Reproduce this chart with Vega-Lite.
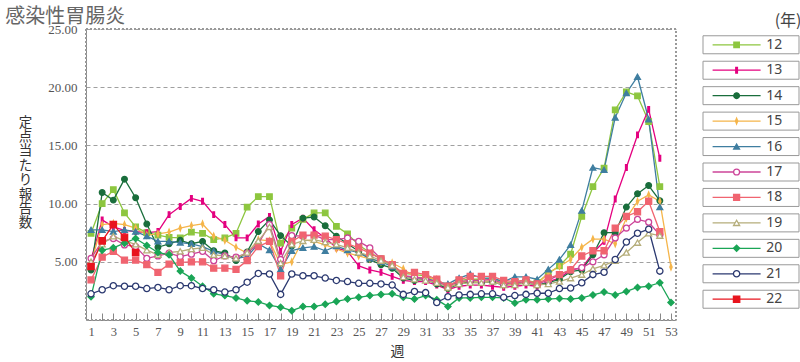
{
"$schema": "https://vega.github.io/schema/vega-lite/v6.json",
"padding": {"left": 5, "top": 7, "right": 0, "bottom": 0},
"background": "white",
"config": {"view": {"stroke": null}, "concat": {"spacing": 24}, "axis": {"labelOverlap": false}},
"datasets": {"d": [
{"s":"12","w":1,"v":7.45},{"s":"12","w":2,"v":10.0},{"s":"12","w":3,"v":11.2},{"s":"12","w":4,"v":9.2},{"s":"12","w":5,"v":8.0},{"s":"12","w":6,"v":7.5},{"s":"12","w":7,"v":7.3},{"s":"12","w":8,"v":7.1},{"s":"12","w":9,"v":7.05},{"s":"12","w":10,"v":7.55},{"s":"12","w":11,"v":7.45},{"s":"12","w":12,"v":6.9},{"s":"12","w":13,"v":7.05},{"s":"12","w":14,"v":7.45},{"s":"12","w":15,"v":9.7},{"s":"12","w":16,"v":10.6},{"s":"12","w":17,"v":10.6},{"s":"12","w":18,"v":6.6},{"s":"12","w":19,"v":7.9},{"s":"12","w":20,"v":8.65},{"s":"12","w":21,"v":9.2},{"s":"12","w":22,"v":9.2},{"s":"12","w":23,"v":8.05},{"s":"12","w":24,"v":7.4},{"s":"12","w":25,"v":6.45},{"s":"12","w":26,"v":5.8},{"s":"12","w":27,"v":5.25},{"s":"12","w":28,"v":4.75},{"s":"12","w":29,"v":4.0},{"s":"12","w":30,"v":3.9},{"s":"12","w":31,"v":3.8},{"s":"12","w":32,"v":3.4},{"s":"12","w":33,"v":2.9},{"s":"12","w":34,"v":3.4},{"s":"12","w":35,"v":3.5},{"s":"12","w":36,"v":3.5},{"s":"12","w":37,"v":3.6},{"s":"12","w":38,"v":3.2},{"s":"12","w":39,"v":3.3},{"s":"12","w":40,"v":3.4},{"s":"12","w":41,"v":3.2},{"s":"12","w":42,"v":4.0},{"s":"12","w":43,"v":4.65},{"s":"12","w":44,"v":5.65},{"s":"12","w":45,"v":8.9},{"s":"12","w":46,"v":11.45},{"s":"12","w":47,"v":13.05},{"s":"12","w":48,"v":18.05},{"s":"12","w":49,"v":19.6},{"s":"12","w":50,"v":19.25},{"s":"12","w":51,"v":17.05},{"s":"12","w":52,"v":11.45},
{"s":"13","w":1,"v":5.2},{"s":"13","w":2,"v":8.6},{"s":"13","w":3,"v":8.0},{"s":"13","w":4,"v":7.7},{"s":"13","w":5,"v":7.6},{"s":"13","w":6,"v":7.5},{"s":"13","w":7,"v":7.6},{"s":"13","w":8,"v":9.05},{"s":"13","w":9,"v":9.75},{"s":"13","w":10,"v":10.45},{"s":"13","w":11,"v":10.2},{"s":"13","w":12,"v":9.05},{"s":"13","w":13,"v":8.2},{"s":"13","w":14,"v":7.05},{"s":"13","w":15,"v":7.05},{"s":"13","w":16,"v":8.25},{"s":"13","w":17,"v":8.9},{"s":"13","w":18,"v":5.9},{"s":"13","w":19,"v":8.2},{"s":"13","w":20,"v":8.75},{"s":"13","w":21,"v":7.75},{"s":"13","w":22,"v":7.05},{"s":"13","w":23,"v":6.2},{"s":"13","w":24,"v":5.9},{"s":"13","w":25,"v":4.65},{"s":"13","w":26,"v":4.3},{"s":"13","w":27,"v":4.1},{"s":"13","w":28,"v":3.75},{"s":"13","w":29,"v":3.4},{"s":"13","w":30,"v":3.3},{"s":"13","w":31,"v":3.3},{"s":"13","w":32,"v":3.0},{"s":"13","w":33,"v":2.6},{"s":"13","w":34,"v":2.9},{"s":"13","w":35,"v":3.0},{"s":"13","w":36,"v":3.0},{"s":"13","w":37,"v":2.9},{"s":"13","w":38,"v":2.8},{"s":"13","w":39,"v":2.9},{"s":"13","w":40,"v":3.0},{"s":"13","w":41,"v":2.9},{"s":"13","w":42,"v":3.3},{"s":"13","w":43,"v":3.6},{"s":"13","w":44,"v":4.3},{"s":"13","w":45,"v":4.45},{"s":"13","w":46,"v":5.75},{"s":"13","w":47,"v":6.75},{"s":"13","w":48,"v":10.4},{"s":"13","w":49,"v":13.1},{"s":"13","w":50,"v":15.9},{"s":"13","w":51,"v":18.1},{"s":"13","w":52,"v":13.9},
{"s":"14","w":1,"v":4.3},{"s":"14","w":2,"v":10.95},{"s":"14","w":3,"v":10.3},{"s":"14","w":4,"v":12.1},{"s":"14","w":5,"v":10.5},{"s":"14","w":6,"v":8.25},{"s":"14","w":7,"v":6.25},{"s":"14","w":8,"v":6.55},{"s":"14","w":9,"v":6.85},{"s":"14","w":10,"v":6.55},{"s":"14","w":11,"v":6.75},{"s":"14","w":12,"v":5.95},{"s":"14","w":13,"v":5.75},{"s":"14","w":14,"v":5.1},{"s":"14","w":15,"v":5.85},{"s":"14","w":16,"v":7.6},{"s":"14","w":17,"v":8.6},{"s":"14","w":18,"v":7.25},{"s":"14","w":19,"v":6.35},{"s":"14","w":20,"v":8.75},{"s":"14","w":21,"v":8.85},{"s":"14","w":22,"v":8.1},{"s":"14","w":23,"v":7.2},{"s":"14","w":24,"v":6.55},{"s":"14","w":25,"v":5.9},{"s":"14","w":26,"v":5.2},{"s":"14","w":27,"v":4.75},{"s":"14","w":28,"v":4.45},{"s":"14","w":29,"v":3.6},{"s":"14","w":30,"v":3.4},{"s":"14","w":31,"v":3.5},{"s":"14","w":32,"v":3.1},{"s":"14","w":33,"v":2.7},{"s":"14","w":34,"v":3.1},{"s":"14","w":35,"v":3.3},{"s":"14","w":36,"v":3.2},{"s":"14","w":37,"v":3.3},{"s":"14","w":38,"v":3.0},{"s":"14","w":39,"v":3.1},{"s":"14","w":40,"v":3.2},{"s":"14","w":41,"v":3.0},{"s":"14","w":42,"v":3.2},{"s":"14","w":43,"v":3.5},{"s":"14","w":44,"v":4.15},{"s":"14","w":45,"v":4.3},{"s":"14","w":46,"v":5.6},{"s":"14","w":47,"v":7.5},{"s":"14","w":48,"v":7.5},{"s":"14","w":49,"v":9.7},{"s":"14","w":50,"v":10.85},{"s":"14","w":51,"v":11.55},{"s":"14","w":52,"v":10.25},
{"s":"15","w":1,"v":4.9},{"s":"15","w":2,"v":8.2},{"s":"15","w":3,"v":8.3},{"s":"15","w":4,"v":8.2},{"s":"15","w":5,"v":7.9},{"s":"15","w":6,"v":7.3},{"s":"15","w":7,"v":7.4},{"s":"15","w":8,"v":7.55},{"s":"15","w":9,"v":7.9},{"s":"15","w":10,"v":8.1},{"s":"15","w":11,"v":8.25},{"s":"15","w":12,"v":7.2},{"s":"15","w":13,"v":6.85},{"s":"15","w":14,"v":6.25},{"s":"15","w":15,"v":5.75},{"s":"15","w":16,"v":6.9},{"s":"15","w":17,"v":6.8},{"s":"15","w":18,"v":4.75},{"s":"15","w":19,"v":5.0},{"s":"15","w":20,"v":6.9},{"s":"15","w":21,"v":6.75},{"s":"15","w":22,"v":6.45},{"s":"15","w":23,"v":6.1},{"s":"15","w":24,"v":5.75},{"s":"15","w":25,"v":5.5},{"s":"15","w":26,"v":5.25},{"s":"15","w":27,"v":5.0},{"s":"15","w":28,"v":4.9},{"s":"15","w":29,"v":4.4},{"s":"15","w":30,"v":3.7},{"s":"15","w":31,"v":3.6},{"s":"15","w":32,"v":3.5},{"s":"15","w":33,"v":2.8},{"s":"15","w":34,"v":3.2},{"s":"15","w":35,"v":3.4},{"s":"15","w":36,"v":3.3},{"s":"15","w":37,"v":3.4},{"s":"15","w":38,"v":3.0},{"s":"15","w":39,"v":3.1},{"s":"15","w":40,"v":3.3},{"s":"15","w":41,"v":3.1},{"s":"15","w":42,"v":4.05},{"s":"15","w":43,"v":4.6},{"s":"15","w":44,"v":5.2},{"s":"15","w":45,"v":6.25},{"s":"15","w":46,"v":6.95},{"s":"15","w":47,"v":6.95},{"s":"15","w":48,"v":6.55},{"s":"15","w":49,"v":8.75},{"s":"15","w":50,"v":10.2},{"s":"15","w":51,"v":10.75},{"s":"15","w":52,"v":10.2},{"s":"15","w":53,"v":4.55},
{"s":"16","w":1,"v":7.75},{"s":"16","w":2,"v":7.75},{"s":"16","w":3,"v":7.6},{"s":"16","w":4,"v":7.75},{"s":"16","w":5,"v":7.6},{"s":"16","w":6,"v":7.2},{"s":"16","w":7,"v":6.75},{"s":"16","w":8,"v":6.75},{"s":"16","w":9,"v":6.65},{"s":"16","w":10,"v":6.55},{"s":"16","w":11,"v":6.3},{"s":"16","w":12,"v":5.9},{"s":"16","w":13,"v":5.6},{"s":"16","w":14,"v":5.3},{"s":"16","w":15,"v":5.45},{"s":"16","w":16,"v":6.55},{"s":"16","w":17,"v":6.0},{"s":"16","w":18,"v":4.35},{"s":"16","w":19,"v":5.95},{"s":"16","w":20,"v":6.2},{"s":"16","w":21,"v":6.3},{"s":"16","w":22,"v":5.95},{"s":"16","w":23,"v":6.35},{"s":"16","w":24,"v":6.0},{"s":"16","w":25,"v":5.8},{"s":"16","w":26,"v":5.3},{"s":"16","w":27,"v":5.0},{"s":"16","w":28,"v":4.6},{"s":"16","w":29,"v":3.8},{"s":"16","w":30,"v":3.6},{"s":"16","w":31,"v":3.6},{"s":"16","w":32,"v":3.3},{"s":"16","w":33,"v":3.1},{"s":"16","w":34,"v":3.6},{"s":"16","w":35,"v":3.95},{"s":"16","w":36,"v":3.6},{"s":"16","w":37,"v":3.6},{"s":"16","w":38,"v":3.3},{"s":"16","w":39,"v":3.7},{"s":"16","w":40,"v":3.7},{"s":"16","w":41,"v":3.5},{"s":"16","w":42,"v":4.35},{"s":"16","w":43,"v":5.2},{"s":"16","w":44,"v":6.45},{"s":"16","w":45,"v":9.4},{"s":"16","w":46,"v":13.1},{"s":"16","w":47,"v":12.9},{"s":"16","w":48,"v":17.4},{"s":"16","w":49,"v":19.5},{"s":"16","w":50,"v":20.9},{"s":"16","w":51,"v":17.25},{"s":"16","w":52,"v":9.7},
{"s":"17","w":1,"v":5.3},{"s":"17","w":2,"v":6.75},{"s":"17","w":3,"v":7.0},{"s":"17","w":4,"v":6.45},{"s":"17","w":5,"v":6.3},{"s":"17","w":6,"v":5.3},{"s":"17","w":7,"v":5.5},{"s":"17","w":8,"v":5.75},{"s":"17","w":9,"v":5.45},{"s":"17","w":10,"v":5.65},{"s":"17","w":11,"v":5.9},{"s":"17","w":12,"v":5.1},{"s":"17","w":13,"v":5.5},{"s":"17","w":14,"v":5.4},{"s":"17","w":15,"v":5.75},{"s":"17","w":16,"v":6.55},{"s":"17","w":17,"v":8.2},{"s":"17","w":18,"v":5.2},{"s":"17","w":19,"v":7.25},{"s":"17","w":20,"v":7.2},{"s":"17","w":21,"v":7.3},{"s":"17","w":22,"v":6.9},{"s":"17","w":23,"v":6.9},{"s":"17","w":24,"v":7.05},{"s":"17","w":25,"v":6.75},{"s":"17","w":26,"v":6.2},{"s":"17","w":27,"v":5.25},{"s":"17","w":28,"v":4.75},{"s":"17","w":29,"v":3.8},{"s":"17","w":30,"v":3.7},{"s":"17","w":31,"v":3.5},{"s":"17","w":32,"v":3.3},{"s":"17","w":33,"v":2.9},{"s":"17","w":34,"v":3.3},{"s":"17","w":35,"v":3.4},{"s":"17","w":36,"v":3.4},{"s":"17","w":37,"v":3.5},{"s":"17","w":38,"v":3.1},{"s":"17","w":39,"v":3.2},{"s":"17","w":40,"v":3.3},{"s":"17","w":41,"v":3.1},{"s":"17","w":42,"v":3.4},{"s":"17","w":43,"v":3.9},{"s":"17","w":44,"v":4.3},{"s":"17","w":45,"v":4.5},{"s":"17","w":46,"v":5.0},{"s":"17","w":47,"v":5.6},{"s":"17","w":48,"v":7.05},{"s":"17","w":49,"v":7.9},{"s":"17","w":50,"v":8.65},{"s":"17","w":51,"v":8.4},{"s":"17","w":52,"v":7.3},
{"s":"18","w":1,"v":3.45},{"s":"18","w":2,"v":5.4},{"s":"18","w":3,"v":5.9},{"s":"18","w":4,"v":5.15},{"s":"18","w":5,"v":5.15},{"s":"18","w":6,"v":4.75},{"s":"18","w":7,"v":4.1},{"s":"18","w":8,"v":4.8},{"s":"18","w":9,"v":4.95},{"s":"18","w":10,"v":5.0},{"s":"18","w":11,"v":5.0},{"s":"18","w":12,"v":4.45},{"s":"18","w":13,"v":4.45},{"s":"18","w":14,"v":4.35},{"s":"18","w":15,"v":5.1},{"s":"18","w":16,"v":6.3},{"s":"18","w":17,"v":6.75},{"s":"18","w":18,"v":3.8},{"s":"18","w":19,"v":6.75},{"s":"18","w":20,"v":7.3},{"s":"18","w":21,"v":7.3},{"s":"18","w":22,"v":7.2},{"s":"18","w":23,"v":6.9},{"s":"18","w":24,"v":6.55},{"s":"18","w":25,"v":6.2},{"s":"18","w":26,"v":5.75},{"s":"18","w":27,"v":5.25},{"s":"18","w":28,"v":4.75},{"s":"18","w":29,"v":4.0},{"s":"18","w":30,"v":4.1},{"s":"18","w":31,"v":3.9},{"s":"18","w":32,"v":3.5},{"s":"18","w":33,"v":2.9},{"s":"18","w":34,"v":3.45},{"s":"18","w":35,"v":3.75},{"s":"18","w":36,"v":3.75},{"s":"18","w":37,"v":3.75},{"s":"18","w":38,"v":3.4},{"s":"18","w":39,"v":3.3},{"s":"18","w":40,"v":3.45},{"s":"18","w":41,"v":3.1},{"s":"18","w":42,"v":3.6},{"s":"18","w":43,"v":3.9},{"s":"18","w":44,"v":4.3},{"s":"18","w":45,"v":5.5},{"s":"18","w":46,"v":5.95},{"s":"18","w":47,"v":5.95},{"s":"18","w":48,"v":7.9},{"s":"18","w":49,"v":8.9},{"s":"18","w":50,"v":9.3},{"s":"18","w":51,"v":10.2},{"s":"18","w":52,"v":7.6},
{"s":"19","w":1,"v":5.0},{"s":"19","w":2,"v":6.5},{"s":"19","w":3,"v":7.2},{"s":"19","w":4,"v":6.8},{"s":"19","w":5,"v":6.5},{"s":"19","w":6,"v":6.0},{"s":"19","w":7,"v":5.6},{"s":"19","w":8,"v":5.8},{"s":"19","w":9,"v":5.9},{"s":"19","w":10,"v":6.1},{"s":"19","w":11,"v":6.2},{"s":"19","w":12,"v":5.6},{"s":"19","w":13,"v":5.5},{"s":"19","w":14,"v":5.3},{"s":"19","w":15,"v":5.8},{"s":"19","w":16,"v":6.8},{"s":"19","w":17,"v":8.0},{"s":"19","w":18,"v":4.9},{"s":"19","w":19,"v":6.5},{"s":"19","w":20,"v":6.8},{"s":"19","w":21,"v":6.9},{"s":"19","w":22,"v":6.7},{"s":"19","w":23,"v":6.5},{"s":"19","w":24,"v":6.2},{"s":"19","w":25,"v":5.8},{"s":"19","w":26,"v":5.5},{"s":"19","w":27,"v":5.1},{"s":"19","w":28,"v":4.7},{"s":"19","w":29,"v":3.7},{"s":"19","w":30,"v":3.5},{"s":"19","w":31,"v":3.4},{"s":"19","w":32,"v":3.2},{"s":"19","w":33,"v":2.8},{"s":"19","w":34,"v":3.1},{"s":"19","w":35,"v":3.2},{"s":"19","w":36,"v":3.2},{"s":"19","w":37,"v":3.3},{"s":"19","w":38,"v":3.0},{"s":"19","w":39,"v":3.0},{"s":"19","w":40,"v":3.2},{"s":"19","w":41,"v":3.0},{"s":"19","w":42,"v":3.1},{"s":"19","w":43,"v":3.3},{"s":"19","w":44,"v":3.6},{"s":"19","w":45,"v":3.9},{"s":"19","w":46,"v":4.4},{"s":"19","w":47,"v":4.7},{"s":"19","w":48,"v":5.1},{"s":"19","w":49,"v":5.8},{"s":"19","w":50,"v":6.65},{"s":"19","w":51,"v":7.45},{"s":"19","w":52,"v":7.25},
{"s":"20","w":1,"v":2.0},{"s":"20","w":2,"v":6.0},{"s":"20","w":3,"v":6.2},{"s":"20","w":4,"v":6.6},{"s":"20","w":5,"v":7.0},{"s":"20","w":6,"v":6.4},{"s":"20","w":7,"v":5.8},{"s":"20","w":8,"v":5.6},{"s":"20","w":9,"v":4.2},{"s":"20","w":10,"v":3.6},{"s":"20","w":11,"v":2.9},{"s":"20","w":12,"v":2.25},{"s":"20","w":13,"v":2.1},{"s":"20","w":14,"v":1.9},{"s":"20","w":15,"v":1.65},{"s":"20","w":16,"v":1.55},{"s":"20","w":17,"v":1.25},{"s":"20","w":18,"v":1.1},{"s":"20","w":19,"v":0.8},{"s":"20","w":20,"v":1.15},{"s":"20","w":21,"v":1.15},{"s":"20","w":22,"v":1.35},{"s":"20","w":23,"v":1.6},{"s":"20","w":24,"v":1.8},{"s":"20","w":25,"v":1.95},{"s":"20","w":26,"v":2.1},{"s":"20","w":27,"v":2.2},{"s":"20","w":28,"v":2.25},{"s":"20","w":29,"v":1.95},{"s":"20","w":30,"v":1.8},{"s":"20","w":31,"v":2.1},{"s":"20","w":32,"v":1.75},{"s":"20","w":33,"v":1.15},{"s":"20","w":34,"v":1.9},{"s":"20","w":35,"v":1.9},{"s":"20","w":36,"v":1.95},{"s":"20","w":37,"v":1.95},{"s":"20","w":38,"v":1.9},{"s":"20","w":39,"v":1.45},{"s":"20","w":40,"v":1.75},{"s":"20","w":41,"v":1.75},{"s":"20","w":42,"v":1.8},{"s":"20","w":43,"v":1.85},{"s":"20","w":44,"v":1.8},{"s":"20","w":45,"v":1.9},{"s":"20","w":46,"v":2.15},{"s":"20","w":47,"v":2.4},{"s":"20","w":48,"v":2.15},{"s":"20","w":49,"v":2.45},{"s":"20","w":50,"v":2.8},{"s":"20","w":51,"v":2.9},{"s":"20","w":52,"v":3.2},{"s":"20","w":53,"v":1.5},
{"s":"21","w":1,"v":2.25},{"s":"21","w":2,"v":2.6},{"s":"21","w":3,"v":2.95},{"s":"21","w":4,"v":2.9},{"s":"21","w":5,"v":2.9},{"s":"21","w":6,"v":2.7},{"s":"21","w":7,"v":2.8},{"s":"21","w":8,"v":2.6},{"s":"21","w":9,"v":2.95},{"s":"21","w":10,"v":2.95},{"s":"21","w":11,"v":2.7},{"s":"21","w":12,"v":2.6},{"s":"21","w":13,"v":2.4},{"s":"21","w":14,"v":2.6},{"s":"21","w":15,"v":3.25},{"s":"21","w":16,"v":4.0},{"s":"21","w":17,"v":3.95},{"s":"21","w":18,"v":2.2},{"s":"21","w":19,"v":3.95},{"s":"21","w":20,"v":3.8},{"s":"21","w":21,"v":3.8},{"s":"21","w":22,"v":3.6},{"s":"21","w":23,"v":3.4},{"s":"21","w":24,"v":3.3},{"s":"21","w":25,"v":3.15},{"s":"21","w":26,"v":3.15},{"s":"21","w":27,"v":3.1},{"s":"21","w":28,"v":3.0},{"s":"21","w":29,"v":2.2},{"s":"21","w":30,"v":2.45},{"s":"21","w":31,"v":2.35},{"s":"21","w":32,"v":1.5},{"s":"21","w":33,"v":2.0},{"s":"21","w":34,"v":2.15},{"s":"21","w":35,"v":2.2},{"s":"21","w":36,"v":2.25},{"s":"21","w":37,"v":2.25},{"s":"21","w":38,"v":1.95},{"s":"21","w":39,"v":2.1},{"s":"21","w":40,"v":2.2},{"s":"21","w":41,"v":2.3},{"s":"21","w":42,"v":2.3},{"s":"21","w":43,"v":2.7},{"s":"21","w":44,"v":2.75},{"s":"21","w":45,"v":3.2},{"s":"21","w":46,"v":3.9},{"s":"21","w":47,"v":4.1},{"s":"21","w":48,"v":5.2},{"s":"21","w":49,"v":6.7},{"s":"21","w":50,"v":7.45},{"s":"21","w":51,"v":7.8},{"s":"21","w":52,"v":4.2},
{"s":"22","w":1,"v":4.6},{"s":"22","w":2,"v":6.8},{"s":"22","w":3,"v":8.2},{"s":"22","w":4,"v":7.1},{"s":"22","w":5,"v":5.8}
]},
"data": {"name": "d"},
"resolve": {"scale": {"x": "independent", "y": "independent"}},
"hconcat": [
{
"width": 590, "height": 291,
"title": {"text": "感染性胃腸炎", "anchor": "start", "frame": "bounds", "fontSize": 20, "font": "Noto Sans CJK JP", "fontWeight": "normal", "color": "#666", "dx": -13, "offset": -4},
"resolve": {"axis": {"x": "independent"}},
"layer": [
{"mark": {"type": "rect", "fill": null, "stroke": "#999", "strokeDash": [2, 2], "strokeWidth": 1}, "encoding": {}},
{"mark": {"type": "line", "clip": false, "strokeJoin": "round"},
 "encoding": {
  "x": {"field": "w", "type": "quantitative", "scale": {"domain": [0.55, 53.45], "nice": false, "zero": false},
    "axis": {"values": [1,3,5,7,9,11,13,15,17,19,21,23,25,27,29,31,33,35,37,39,41,43,45,47,49,51,53],
      "tickSize": -7, "tickColor": "#888", "domainColor": "#888", "grid": false,
      "labelPadding": 12, "labelFont": "Liberation Serif", "labelFontSize": 12.5, "labelColor": "#555", "labelFlush": false, "labelOverlap": false, "labelBound": false,
      "title": "週", "titleFont": "Noto Sans CJK JP", "titleFontSize": 14, "titleFontWeight": "normal", "titleColor": "#333", "titleX": 311, "titlePadding": 7}},
  "y": {"field": "v", "type": "quantitative", "scale": {"domain": [0, 25], "nice": false},
    "axis": {"values": [5, 10, 15, 20, 25], "format": ".2f", "ticks": false, "labelPadding": 9, "labelFont": "Liberation Serif", "labelFontSize": 13, "labelColor": "#555", "domainColor": "#888",
      "gridColor": "#888", "gridDash": [4, 3], "gridWidth": 0.8,
      "title": ["定","点","当","た","り","報","告","数"], "titleAngle": 0, "titleFontSize": 13.5, "titleLineHeight": 14.4, "titleFont": "Noto Sans CJK JP", "titleFontWeight": "normal", "titleColor": "#333",
      "titleX": -61, "titleY": 93, "titleAlign": "center", "titleBaseline": "middle"}},
  "stroke": {"field": "s", "type": "nominal", "legend": null,
    "scale": {"domain": ["12","13","14","15","16","17","18","19","20","21","22"], "range": ["#8dc63f","#e4007f","#1a6e3c","#f5b54a","#3f7ea0","#cc4499","#f06470","#b5ad7a","#1aa556","#2b3970","#e8141e"]}},
  "strokeWidth": {"field": "s", "type": "nominal", "legend": null,
    "scale": {"domain": ["12","13","14","15","16","17","18","19","20","21","22"], "range": [1.3,1.3,1.3,1.3,1.3,1.3,1.3,1.3,1.3,1.5,3.5]}}
 }},
{"mark": {"type": "point", "filled": false, "opacity": 1, "clip": false},
 "encoding": {
  "x": {"field": "w", "type": "quantitative",
    "axis": {"values": [2,4,6,8,10,12,14,16,18,20,22,24,26,28,30,32,34,36,38,40,42,44,46,48,50,52], "labels": false, "domain": false, "grid": false, "tickSize": -7, "tickColor": "#888", "title": null, "orient": "bottom"}},
  "y": {"field": "v", "type": "quantitative"},
  "stroke": {"field": "s", "type": "nominal", "legend": null},
  "fill": {"field": "s", "type": "nominal", "legend": null,
    "scale": {"domain": ["12","13","14","15","16","17","18","19","20","21","22"], "range": ["#8dc63f","#e4007f","#1a6e3c","#f5b54a","#3f7ea0","#ffffff","#f06470","#ffffff","#1aa556","#ffffff","#e8141e"]}},
  "shape": {"field": "s", "type": "nominal", "legend": null,
    "scale": {"domain": ["12","13","14","15","16","17","18","19","20","21","22"], "range": ["square","M-0.3,-1H0.3V1H-0.3Z","circle","M0,-1L0.4,0L0,1L-0.4,0Z","triangle-up","circle","square","triangle-up","diamond","circle","square"]}},
  "size": {"field": "s", "type": "nominal", "legend": null,
    "scale": {"domain": ["12","13","14","15","16","17","18","19","20","21","22"], "range": [30,40,35,40,35,22,35,30,35,40,80]}},
  "strokeWidth": {"field": "s", "type": "nominal", "legend": null}
 }}
]
},
{
"width": 96, "height": 286,
"title": {"text": "(年)", "anchor": "end", "fontSize": 16, "font": "Noto Sans CJK JP", "fontWeight": "normal", "color": "#444", "offset": 0, "dx": 2},
"transform": [{"aggregate": [{"op": "count", "as": "n"}], "groupby": ["s"]}],
"encoding": {"y": {"field": "s", "type": "nominal", "sort": ["12","13","14","15","16","17","18","19","20","21","22"], "scale": {"type": "point", "padding": 0.62}, "axis": null}},
"layer": [
{"mark": {"type": "rect", "fill": null, "stroke": "#999", "strokeWidth": 1}, "encoding": {}},
{"mark": {"type": "rule"},
 "encoding": {
  "x": {"datum": 1, "type": "quantitative", "scale": {"domain": [0, 10], "nice": false}, "axis": null},
  "x2": {"datum": 6},
  "stroke": {"field": "s", "type": "nominal", "legend": null},
  "strokeWidth": {"field": "s", "type": "nominal", "legend": null}
 }},
{"mark": {"type": "point", "filled": false, "opacity": 1},
 "encoding": {
  "x": {"datum": 3.5, "type": "quantitative"},
  "stroke": {"field": "s", "type": "nominal", "legend": null},
  "fill": {"field": "s", "type": "nominal", "legend": null},
  "shape": {"field": "s", "type": "nominal", "legend": null},
  "size": {"field": "s", "type": "nominal", "legend": null},
  "strokeWidth": {"field": "s", "type": "nominal", "legend": null}
 }},
{"mark": {"type": "text", "align": "left", "baseline": "middle", "font": "Noto Sans", "fontSize": 14, "fill": "#444"},
 "encoding": {
  "x": {"datum": 6.6, "type": "quantitative"},
  "text": {"field": "s", "type": "nominal"}
 }}
]
}
]
}
